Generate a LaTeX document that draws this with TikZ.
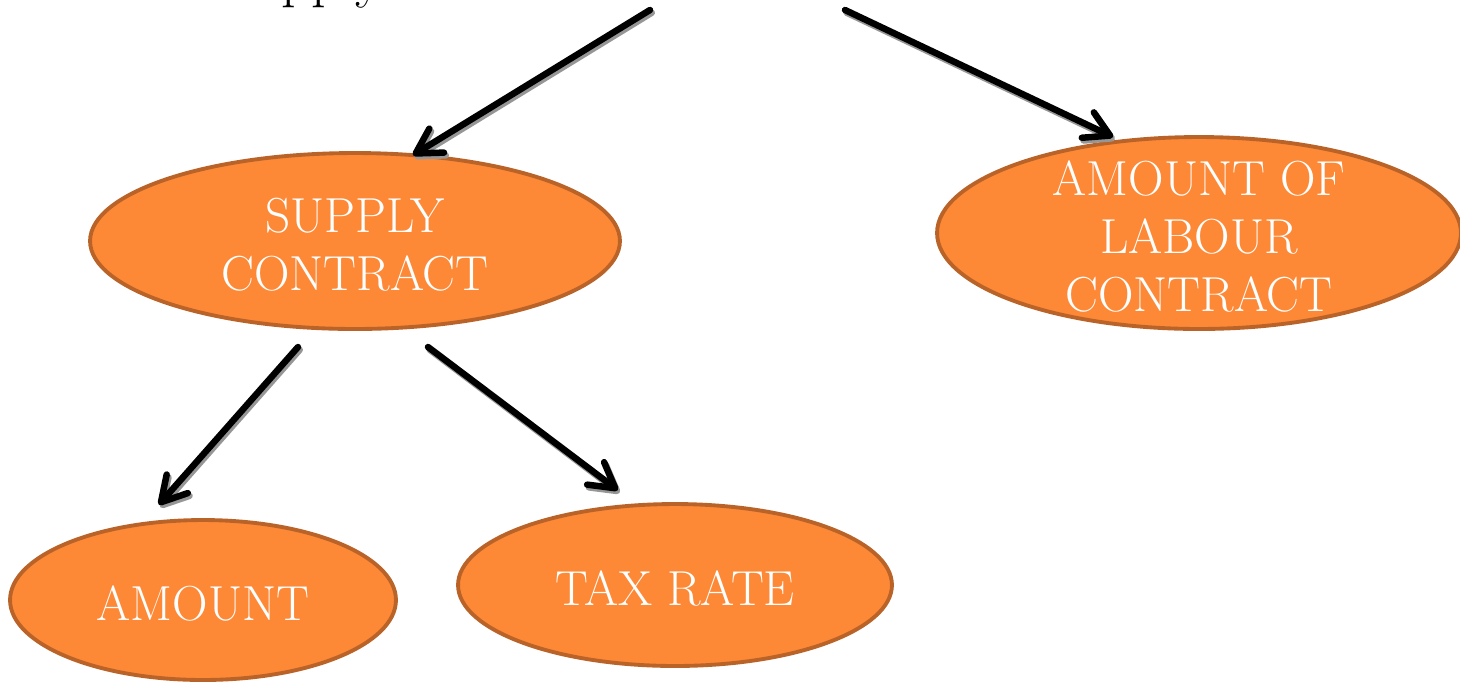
\documentclass[tikz,border=0pt]{standalone}
\usetikzlibrary{arrows.meta,shapes.geometric}
\definecolor{ovfill}{RGB}{253,137,55}
\definecolor{ovline}{RGB}{186,99,40}
\definecolor{shadecol}{RGB}{150,150,150}
\tikzset{
  oval/.style={ellipse, draw=ovline, fill=ovfill, line width=2.2pt, inner sep=0pt, outer sep=0pt},
  ovtext/.style={text=white, align=center, font=\fontsize{28}{33}\selectfont, inner sep=0pt, yshift=-2pt},
  arrbase/.style={line width=3.7pt, line cap=round, line join=round,
    -{Straight Barb[length=14pt,width=16pt,line cap=round,line join=round]}},
  arr/.style={arrbase, draw=black},
  arrshadow/.style={arrbase, draw=shadecol, transform canvas={shift={(0.035cm,-0.055cm)}}}
}
\begin{document}
\begin{tikzpicture}[x=0.02cm,y=-0.02cm]
\useasboundingbox (0,0) rectangle (1460,681);
\clip (0,0) rectangle (1460,681);
\node[anchor=base west, font=\fontsize{33}{40}\selectfont, inner sep=0pt] (title) at (222,-4) {Supply};
\node[oval, minimum width=10.6cm, minimum height=3.52cm,
  label={[ovtext]center:SUPPLY\\CONTRACT}] (sc) at (355,241) {};
\node[oval, minimum width=10.48cm, minimum height=3.84cm,
  label={[ovtext]center:AMOUNT OF\\LABOUR\\CONTRACT}] (lab) at (1199,233) {};
\node[oval, minimum width=7.72cm, minimum height=3.2cm,
  label={[ovtext]center:AMOUNT}] (am) at (203,600) {};
\node[oval, minimum width=8.68cm, minimum height=3.24cm,
  label={[ovtext]center:TAX RATE}] (tax) at (675,585) {};
\coordinate (s1) at (650,10);
\coordinate (s2) at (845,10);
\coordinate (s3) at (298,347);
\coordinate (s4) at (428,347);
\draw[arrshadow] (s1) -- (sc.56.6);
\draw[arrshadow, shorten >=0.2cm] (s2) -- (lab.130.4);
\draw[arrshadow, shorten >=0.52cm] (s3) -- (am.129.3);
\draw[arrshadow, shorten >=0.5cm] (s4) -- (tax.115.4);
\draw[arr] (s1) -- (sc.56.6);
\draw[arr, shorten >=0.2cm] (s2) -- (lab.130.4);
\draw[arr, shorten >=0.52cm] (s3) -- (am.129.3);
\draw[arr, shorten >=0.5cm] (s4) -- (tax.115.4);
\end{tikzpicture}
\end{document}
